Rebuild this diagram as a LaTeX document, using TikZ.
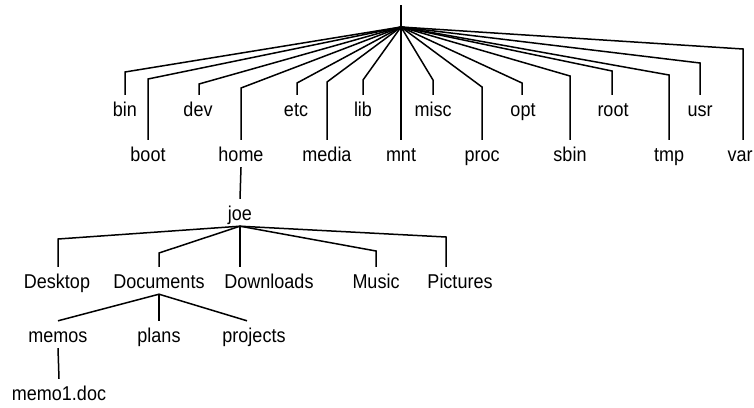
\documentclass[tikz,border=0pt]{standalone}
\usepackage{fontspec}
\setmainfont{Liberation Sans}[FakeStretch=0.9]
\usetikzlibrary{positioning,calc}

\begin{document}
\begin{tikzpicture}[x=1pt,y=-1pt,
  dirname/.style={font=\fontsize{20}{24}\selectfont, anchor=base,
    inner xsep=0pt, inner ysep=4pt, text height=17pt, text depth=2pt},
  branch/.style={line width=1.5pt}]

\useasboundingbox (0,0) rectangle (754,407);

% Root of the tree
\coordinate (top) at (401,5);
\coordinate (hub) at (401,27);
\draw[branch] (top) -- (hub);

% Directories under the root (name/label x/line x/corner y/baseline)
\foreach \name/\lx/\cx/\cy/\by in {bin/125/125/72/116, boot/148/148/79/161,
    dev/198/199/84/116, home/241/241/88/161, etc/296/297/83/116,
    media/327/327/82/161, lib/363/363/80/116, mnt/401/401/27/161,
    misc/433/433/80/116, proc/482/482/87/161, opt/523/522/83/116,
    sbin/570/570/76/161, root/613/612/71/116, tmp/669/669/75/161,
    usr/700/700/63/116, var/740/743/49/161} {
  \node[dirname] (\name) at (\lx,\by) {\name};
  \coordinate (c) at (\cx,\cy);
  \draw[branch] (hub) -- (c) -- (c |- \name.north);
}

% Home directory
\node[dirname] (joe) at (240,220) {joe};
\draw[branch] (home.south) -- (joe.north);

\foreach \name/\lx/\cx/\cy in {Desktop/57/58/239, Documents/159/159/253,
    Downloads/269/240/229, Music/376/376/251, Pictures/460/446/237} {
  \node[dirname] (\name) at (\lx,288) {\name};
  \coordinate (c) at (\cx,\cy);
  \draw[branch] (joe.south) -- (c) -- (c |- \name.north);
}

% Inside Documents
\node[dirname] (memos) at (58,342) {memos};
\node[dirname] (plans) at (159,342) {plans};
\node[dirname] (projects) at (254,342) {projects};
\draw[branch] (Documents.south) -- (memos.north);
\draw[branch] (Documents.south) -- (plans.north);
\draw[branch] (Documents.south) -- ([xshift=-7pt]projects.north);

% A file
\node[dirname] (memofile) at (59,400) {memo1.doc};
\draw[branch] (memos.south) -- (memofile.north);

\end{tikzpicture}
\end{document}
